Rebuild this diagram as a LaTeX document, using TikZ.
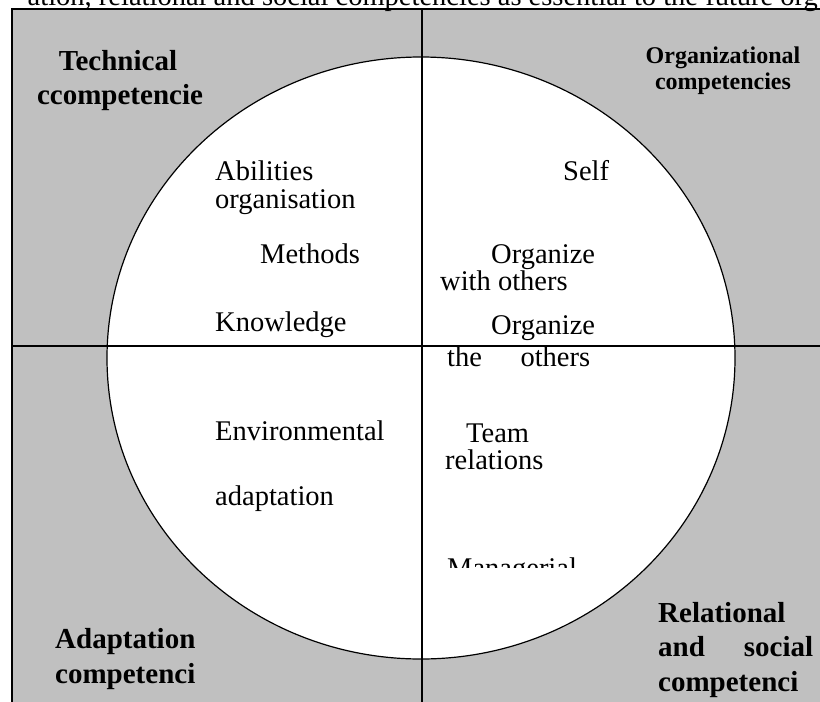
\documentclass[tikz,border=0pt]{standalone}
\usepackage{fontspec}
\setmainfont{Liberation Serif}
\definecolor{panelgray}{RGB}{192,192,192}
\begin{document}
\begin{tikzpicture}[x=1pt,y=-1pt,
  body/.style={font=\fontsize{28.5}{33}\selectfont, inner sep=0pt, anchor=base west},
  title/.style={font=\fontsize{29}{33}\selectfont\bfseries, inner sep=0pt, anchor=base},
  smalltitle/.style={font=\fontsize{24}{28}\selectfont\bfseries, inner sep=0pt, anchor=base},
  frame/.style={line width=1.6pt}]
\useasboundingbox (0,0) rectangle (820,702);
\begin{scope}
\clip (0,0) rectangle (820,702);
\fill[panelgray] (12,9) rectangle (830,712);
\draw[line width=1.2pt, fill=white] (421,358) ellipse [x radius=314, y radius=301];
\draw[frame] (12,712) -- (12,9) -- (830,9);
\draw[frame] (422,9) -- (422,712);
\draw[frame] (12,346) -- (830,346);
\node[body, anchor=base east] (caption) at (818,5) {ation, relational and social competencies as essential to the future org};
\end{scope}
% quadrant titles
\node[title] (tech1) at (118,70) {Technical};
\node[title] (tech2) at (120,104) {ccompetencie};
\node[smalltitle] (org1) at (723,63) {Organizational};
\node[smalltitle] (org2) at (723,89) {competencies};
\node[title, anchor=base west] (adapt1) at (55,648) {Adaptation};
\node[title, anchor=base west] (adapt2) at (55,683) {competenci};
\node[title, anchor=base west] (rel1) at (658,622) {Relational};
\node[title, anchor=base west] (rel2) at (658,656) {\makebox[155pt][s]{and\hfill social}};
\node[title, anchor=base west] (rel3) at (658,691) {competenci};
% circle texts
\node[body] (abil) at (215,180) {Abilities};
\node[body] (orgn) at (215,208) {organisation};
\node[body] (meth) at (260,263) {Methods};
\node[body] (know) at (215,331) {Knowledge};
\node[body] (self) at (563,180) {Self};
\node[body] (orgz1) at (491,263) {Organize};
\node[body] (withoth) at (440,290) {with others};
\node[body] (orgz2) at (491,334) {Organize};
\node[body] (theoth) at (447,366) {\makebox[143pt][s]{the\hfill others}};
\node[body] (env) at (215,440) {Environmental};
\node[body] (adaptn) at (215,505) {adaptation};
\node[body] (team) at (466,442) {Team};
\node[body] (relns) at (445,469) {relations};
\begin{scope}
\clip (430,540) rectangle (620,567);
\node[body] (manag) at (447,577) {Managerial};
\end{scope}
\end{tikzpicture}
\end{document}
